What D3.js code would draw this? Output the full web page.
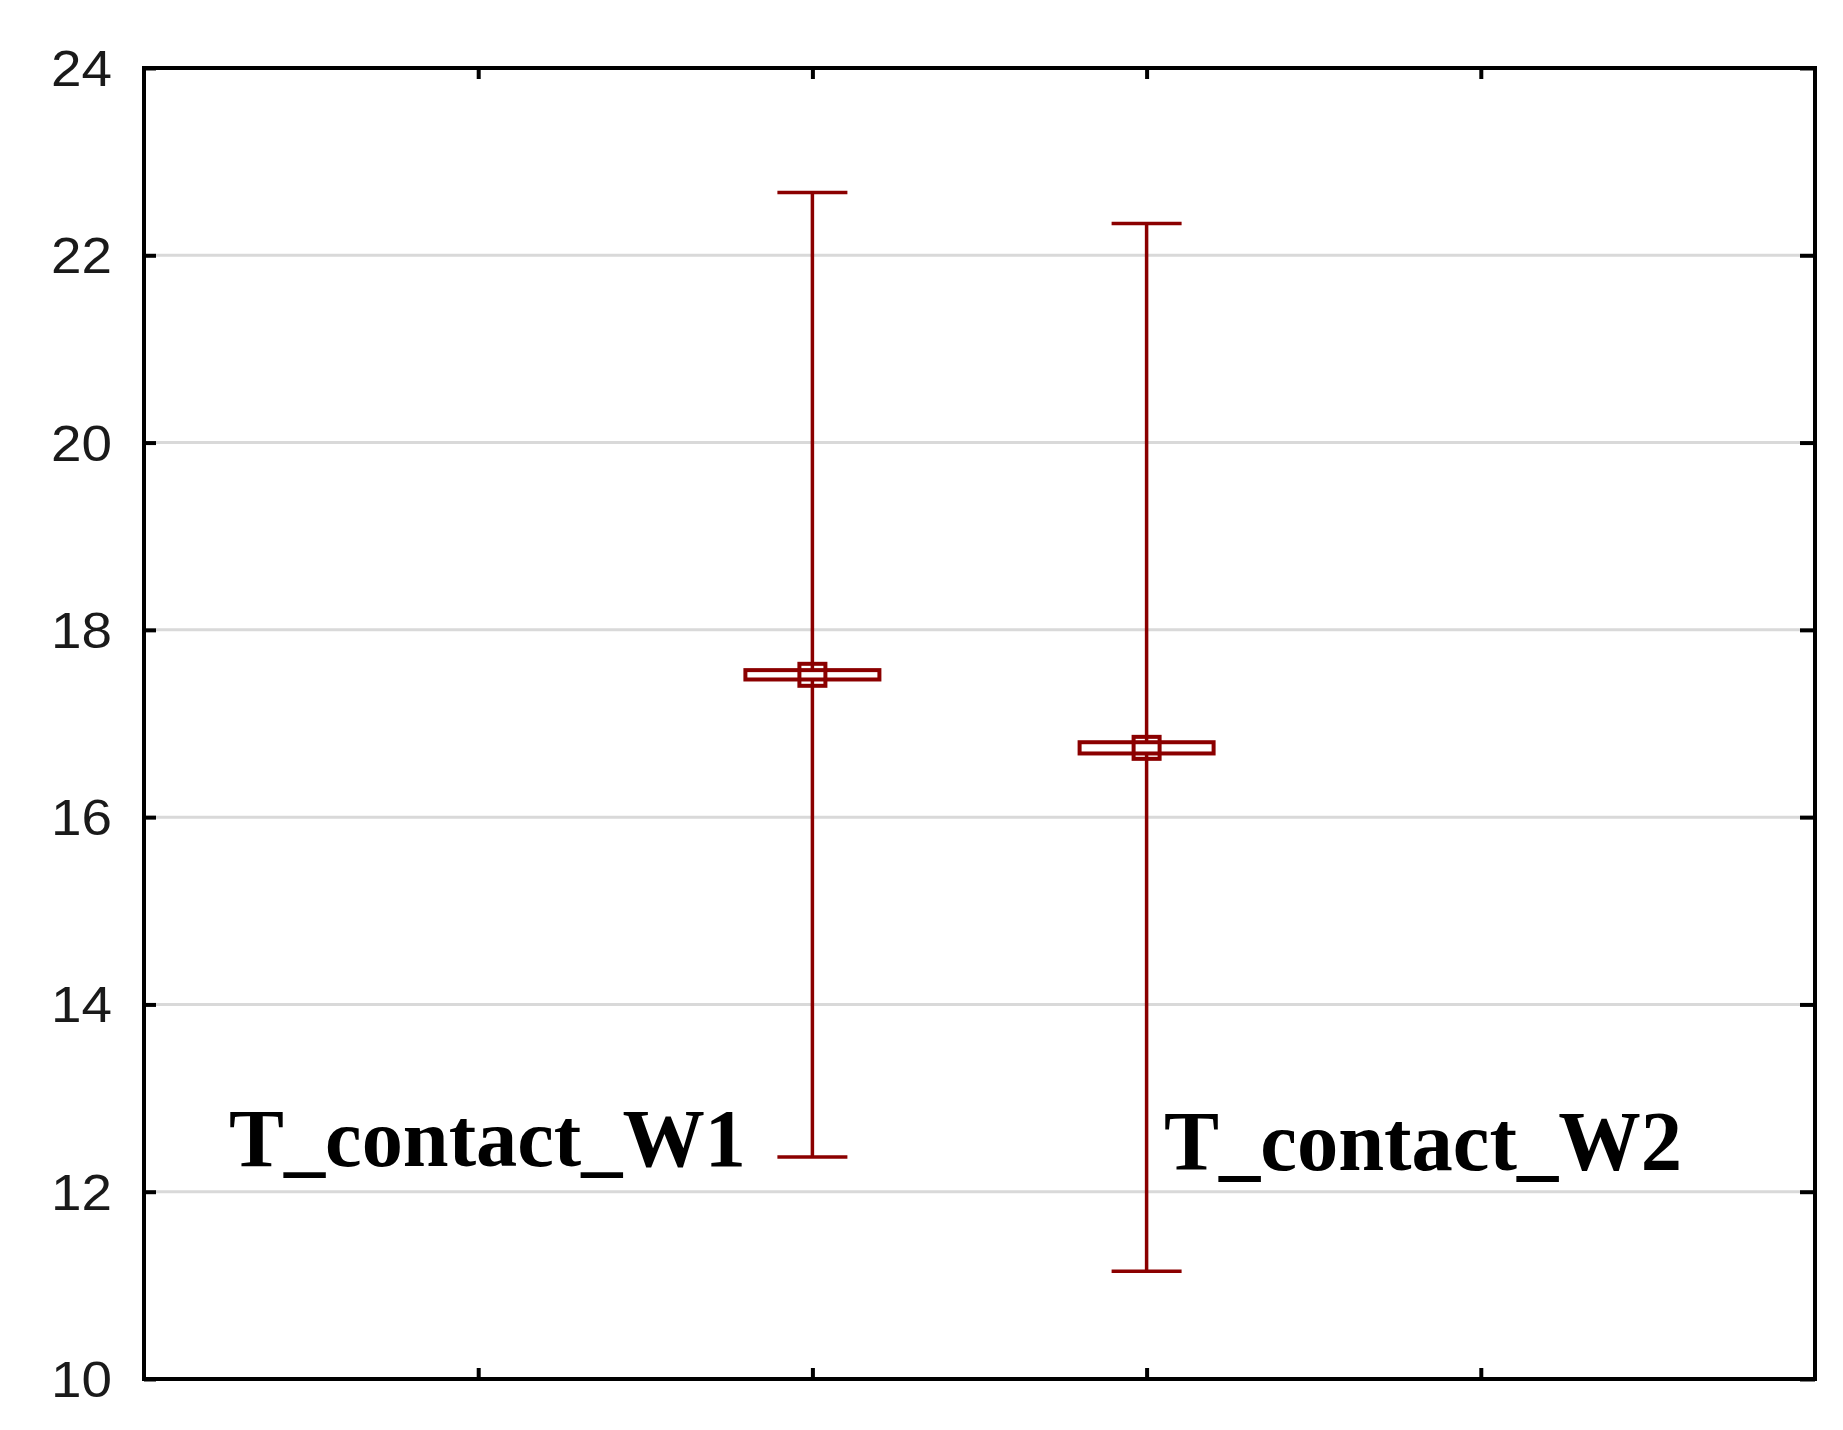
<!DOCTYPE html>
<html>
<head>
<meta charset="utf-8">
<script src="https://cdn.jsdelivr.net/npm/d3@7"></script>
<style>
  html, body { margin: 0; padding: 0; background: #fff; }
  svg { display: block; }
</style>
</head>
<body>
<svg id="chart" width="1843" height="1430"></svg>
<script>
// ---- data ----
const categories = ["T_contact_W1", "T_contact_W2"];
const categoryPositions = [2, 3];          // positions on the 0..5 x axis
const means = [17.52, 16.74];
const boxLow = [17.47, 16.68];             // mean - SE
const boxHigh = [17.57, 16.80];            // mean + SE
const whiskerLow = [12.37, 11.15];
const whiskerHigh = [22.67, 22.34];
const yTicks = [10, 12, 14, 16, 18, 20, 22, 24];
const xTickPositions = [1, 2, 3, 4];

// ---- layout ----
const svg = d3.select("#chart");
const L = 144, R = 1815, T = 68, B = 1379;
const x = d3.scaleLinear().domain([0, 5]).range([L, R]);
const y = d3.scaleLinear().domain([10, 24]).range([B, T]);
const red = "#8b0000";

// gridlines
svg.append("g").selectAll("line")
  .data(yTicks.filter(v => v > 10 && v < 24))
  .join("line")
  .attr("x1", L).attr("x2", R)
  .attr("y1", d => y(d)).attr("y2", d => y(d))
  .attr("stroke", "#d9d9d9").attr("stroke-width", 3);

// axes (ticks inward)
const fontAxis = "Liberation Sans, Arial, sans-serif";
const yLeft = svg.append("g").attr("transform", `translate(${L},0)`)
  .call(d3.axisLeft(y).tickValues(yTicks).tickSize(-12).tickPadding(32).tickFormat(d3.format("d")));
const yRight = svg.append("g").attr("transform", `translate(${R},0)`)
  .call(d3.axisRight(y).tickValues(yTicks).tickSize(-15).tickFormat(""));
const xTop = svg.append("g").attr("transform", `translate(0,${T})`)
  .call(d3.axisTop(x).tickValues(xTickPositions).tickSize(-11).tickFormat(""));
const xBottom = svg.append("g").attr("transform", `translate(0,${B})`)
  .call(d3.axisBottom(x).tickValues(xTickPositions).tickSize(-11).tickFormat(""));

[yLeft, yRight, xTop, xBottom].forEach(g => {
  g.select(".domain").remove();
  g.selectAll(".tick line").attr("stroke", "#000").attr("stroke-width", 4);
});
yLeft.selectAll(".tick text")
  .attr("font-family", fontAxis).attr("font-size", 50)
  .attr("fill", "#1a1a1a").attr("dy", "0.35em")
  .attr("textLength", 61).attr("lengthAdjust", "spacingAndGlyphs");

// frame
svg.append("rect")
  .attr("x", L).attr("y", T).attr("width", R - L).attr("height", B - T)
  .attr("fill", "none").attr("stroke", "#000").attr("stroke-width", 4);

// error bars
const data = categories.map((c, i) => ({
  name: c, pos: categoryPositions[i], mean: means[i],
  bl: boxLow[i], bh: boxHigh[i], wl: whiskerLow[i], wh: whiskerHigh[i]
}));

const g = svg.append("g").attr("stroke", red).attr("fill", "none").attr("stroke-width", 3.5);
const capHalf = 35, boxHalf = 67, sq = 13;
data.forEach(d => {
  const cx = x(d.pos);
  g.append("line").attr("x1", cx).attr("x2", cx).attr("y1", y(d.wh)).attr("y2", y(d.wl));
  g.append("line").attr("x1", cx - capHalf).attr("x2", cx + capHalf).attr("y1", y(d.wh)).attr("y2", y(d.wh));
  g.append("line").attr("x1", cx - capHalf).attr("x2", cx + capHalf).attr("y1", y(d.wl)).attr("y2", y(d.wl));
  g.append("rect").attr("x", cx - boxHalf).attr("width", 2 * boxHalf)
    .attr("y", y(d.bh)).attr("height", y(d.bl) - y(d.bh)).attr("fill", "#fff")
    .attr("stroke-width", 4);
  g.append("rect").attr("x", cx - sq).attr("width", 2 * sq)
    .attr("y", y(d.mean) - 11).attr("height", 22).attr("fill", "none")
    .attr("stroke-width", 4);
});

// category labels
const labelSpecs = [
  { x: 229, y: 1166, size: 83, len: 517 },
  { x: 1164, y: 1170, size: 84, len: 518 }
];
svg.append("g").selectAll("text")
  .data(data)
  .join("text")
  .attr("x", (d, i) => labelSpecs[i].x)
  .attr("y", (d, i) => labelSpecs[i].y)
  .attr("font-family", "Liberation Serif, 'Times New Roman', serif")
  .attr("font-weight", "bold")
  .attr("font-size", (d, i) => labelSpecs[i].size)
  .attr("textLength", (d, i) => labelSpecs[i].len)
  .attr("lengthAdjust", "spacingAndGlyphs")
  .attr("fill", "#000")
  .text(d => d.name);
</script>
</body>
</html>
